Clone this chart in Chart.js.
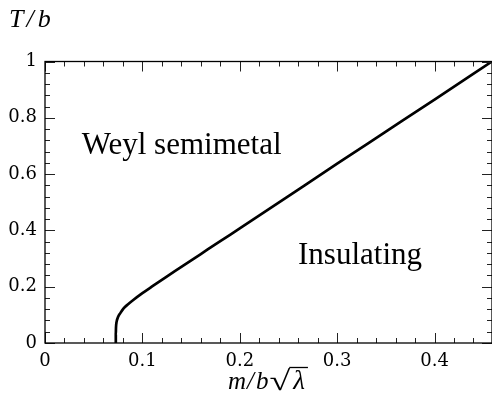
<!DOCTYPE html>
<html>
<head>
<meta charset="utf-8">
<script src="https://cdn.jsdelivr.net/npm/chart.js@4"></script>
<style>
html,body{margin:0;padding:0;background:#fff;}
#c{display:block;}
</style>
</head>
<body>
<canvas id="c" width="492" height="403"></canvas>
<script>
// Data
const mValues = [0.0727, 0.0727, 0.0729, 0.0735, 0.075, 0.0775, 0.0805, 0.085, 0.090, 0.100, 0.110, 0.125, 0.140, 0.160, 0.180, 0.200, 0.250, 0.300, 0.350, 0.400, 0.459];
const tValues = [0.000, 0.030, 0.055, 0.075, 0.092, 0.107, 0.122, 0.137, 0.151, 0.177, 0.201, 0.236, 0.270, 0.316, 0.362, 0.407, 0.522, 0.637, 0.751, 0.865, 1.000];
const regionLabels = ["Weyl semimetal", "Insulating"];
const xTitle = ["m", "/", "b", "\u221A", "\u03BB"];
const yTitle = ["T", "/", "b"];

const SERIF = "'Liberation Serif', 'DejaVu Serif', serif";
const TICKFONT = "'DejaVu Serif', 'Liberation Serif', serif";

const points = mValues.map((m, i) => ({x: m, y: tValues[i]}));

const framePlugin = {
  id: 'frame',
  afterDraw(chart) {
    const ctx = chart.ctx;
    const xs = chart.scales.x, ys = chart.scales.y;
    const a = chart.chartArea;
    ctx.save();
    // ticks (inward)
    ctx.strokeStyle = '#222';
    ctx.lineWidth = 1;
    const tick = (x1, y1, x2, y2) => { ctx.beginPath(); ctx.moveTo(x1, y1); ctx.lineTo(x2, y2); ctx.stroke(); };
    for (let k = 0; k <= 23; k++) {
      const v = k * 0.02;
      if (v > xs.max + 1e-9) break;
      const px = Math.round(xs.getPixelForValue(v)) + 0.5;
      const len = (k % 5 === 0) ? 10 : 5;
      tick(px, a.bottom, px, a.bottom - len);
      tick(px, a.top, px, a.top + len);
    }
    for (let k = 0; k <= 25; k++) {
      const v = k * 0.04;
      const py = Math.round(ys.getPixelForValue(v)) + 0.5;
      const len = (k % 5 === 0) ? 10 : 5;
      tick(a.left, py, a.left + len, py);
      tick(a.right, py, a.right - len, py);
    }
    // border
    ctx.strokeStyle = '#000';
    ctx.lineWidth = 1.3;
    ctx.strokeRect(a.left, a.top, a.right - a.left, a.bottom - a.top);

    // region labels
    ctx.fillStyle = '#000';
    ctx.font = "31px " + SERIF;
    ctx.textBaseline = 'alphabetic';
    ctx.textAlign = 'left';
    ctx.fillText(regionLabels[0], xs.getPixelForValue(0.0377), ys.getPixelForValue(0.670));
    ctx.fillText(regionLabels[1], xs.getPixelForValue(0.2598), ys.getPixelForValue(0.2796));

    // y title  T/b
    let x = 9, yb = 27;
    ctx.font = "italic 26px " + SERIF;
    ctx.fillText(yTitle[0], x, yb); x += ctx.measureText(yTitle[0]).width + 3;
    ctx.fillText(yTitle[1], x, yb); x += ctx.measureText(yTitle[1]).width + 4;
    ctx.fillText(yTitle[2], x, yb);

    // x title  m/b sqrt(lambda)
    x = 228; yb = 389;
    ctx.font = "italic 25px " + SERIF;
    ctx.fillText(xTitle[0], x, yb); x += ctx.measureText(xTitle[0]).width + 1;
    ctx.fillText(xTitle[1], x, yb); x += ctx.measureText(xTitle[1]).width + 2;
    ctx.fillText(xTitle[2], x, yb); x += ctx.measureText(xTitle[2]).width + 1;
    ctx.font = "28px " + SERIF;
    const rw = ctx.measureText(xTitle[3]).width;
    ctx.save();
    ctx.translate(x, yb + 1);
    ctx.scale(1.35, 1);
    ctx.fillText(xTitle[3], 0, 0);
    ctx.restore();
    const sx = x + rw * 1.35;
    ctx.font = "italic 27px " + SERIF;
    ctx.fillText(xTitle[4], sx + 3, yb);
    const lw = ctx.measureText(xTitle[4]).width;
    ctx.lineWidth = 1.3;
    ctx.beginPath();
    ctx.moveTo(sx - 1, yb - 21.5);
    ctx.lineTo(sx + lw + 6, yb - 21.5);
    ctx.stroke();
    ctx.restore();
  }
};

const fmt = v => String(Math.round(v * 100) / 100);

new Chart(document.getElementById('c'), {
  type: 'line',
  data: {
    datasets: [{
      data: points,
      borderColor: '#000',
      borderWidth: 2.7,
      pointRadius: 0,
      fill: false,
      cubicInterpolationMode: 'monotone'
    }]
  },
  options: {
    responsive: false,
    animation: false,
    devicePixelRatio: 1,
    layout: { padding: { top: 61.5, left: 0, right: 0, bottom: 0 } },
    plugins: { legend: { display: false }, tooltip: { enabled: false }, title: { display: false } },
    scales: {
      x: {
        type: 'linear',
        min: 0, max: 0.459,
        grid: { display: false, drawTicks: false },
        border: { display: false },
        ticks: { stepSize: 0.1, includeBounds: false, color: '#000', font: { family: TICKFONT, size: 18 }, padding: 8, maxRotation: 0, callback: fmt },
        afterFit(s) { s.height = 60; }
      },
      y: {
        type: 'linear',
        min: 0, max: 1,
        grid: { display: false, drawTicks: false },
        border: { display: false },
        ticks: { stepSize: 0.2, color: '#000', font: { family: TICKFONT, size: 18 }, padding: 8, callback: fmt },
        afterFit(s) { s.width = 45; }
      }
    }
  },
  plugins: [framePlugin]
});
</script>
</body>
</html>
